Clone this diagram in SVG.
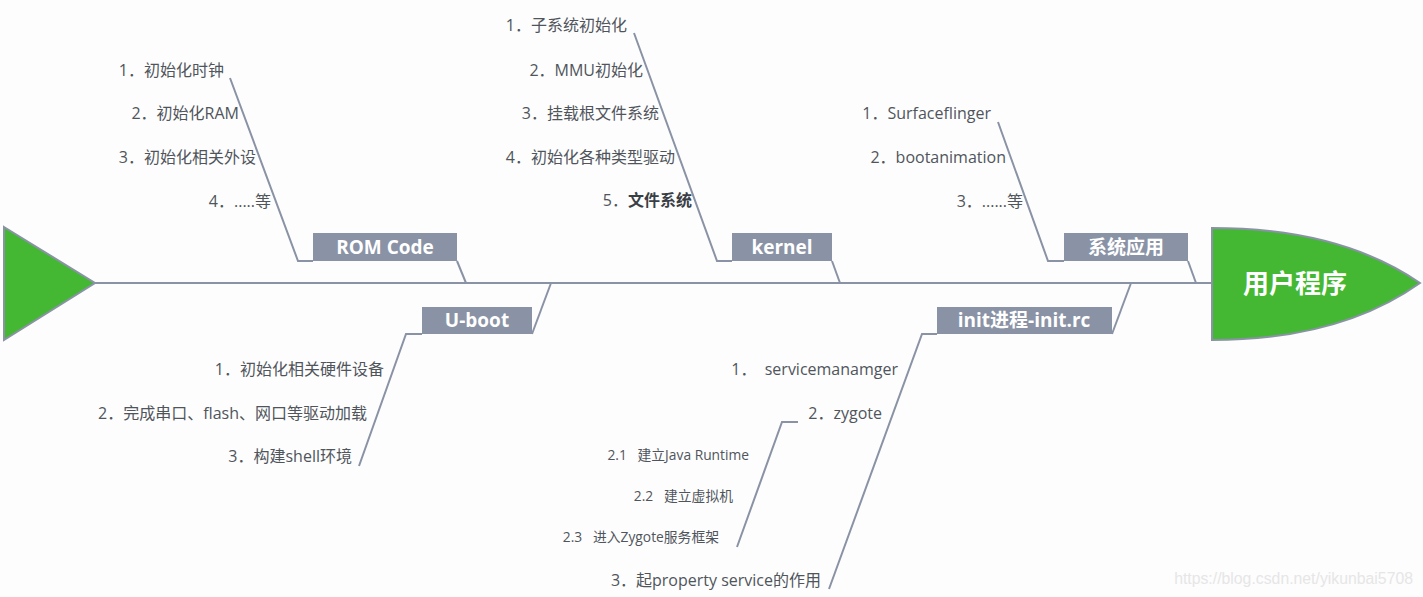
<svg xmlns="http://www.w3.org/2000/svg" width="1423" height="597" viewBox="0 0 1423 597">
<style>
.ln{stroke:#8a93a5;stroke-width:2;fill:none}
.box{fill:#8a93a5}
.bl{font-family:"Open Sans","Noto Sans CJK SC",sans-serif;font-size:19px;font-weight:bold;fill:#ffffff;text-anchor:middle}
.it{font-family:"Open Sans","Noto Sans CJK SC",sans-serif;font-size:16px;fill:#50555c;text-anchor:end}
.sm{font-family:"Open Sans","Noto Sans CJK SC",sans-serif;font-size:13.8px;fill:#50555c;text-anchor:end}
.head{fill:#44b833;stroke:#8a93a5;stroke-width:2}
</style>
<rect width="1423" height="597" fill="#fdfdfd"/>
<g id="connectors">
<line class="ln" x1="95" y1="283" x2="1212" y2="283"/>
<polyline class="ln" points="230,78 298,261 313,261"/>
<line class="ln" x1="457" y1="261" x2="466" y2="283"/>
<polyline class="ln" points="634,33 717,261 732,261"/>
<line class="ln" x1="832" y1="261" x2="840" y2="283"/>
<polyline class="ln" points="998,122 1048,261 1064,261"/>
<line class="ln" x1="1188" y1="261" x2="1196" y2="283"/>
<polyline class="ln" points="359,466 406,334 422,334"/>
<line class="ln" x1="532" y1="334" x2="551" y2="283"/>
<polyline class="ln" points="829,589 922,334 937,334"/>
<line class="ln" x1="1112" y1="334" x2="1131" y2="283"/>
<polyline class="ln" points="737,547 782,422 798,422"/>
</g>
<g id="tail">
<polygon class="head" points="4,227 95,283 4,340"/>
</g>
<g id="head">
<path class="head" d="M1212,228 Q1340,228 1420,283 Q1340,340 1212,340 Z"/>
<text x="1295" y="293" font-family="'Noto Sans CJK SC',sans-serif" font-size="26" font-weight="bold" fill="#ffffff" text-anchor="middle">用户程序</text>
</g>
<g id="romcode">
<rect class="box" x="313" y="233" width="144" height="28"/>
<text class="bl" x="385" y="254">ROM Code</text>
<text class="it" x="224" y="76">1．初始化时钟</text>
<text class="it" x="239" y="119">2．初始化RAM</text>
<text class="it" x="256" y="163">3．初始化相关外设</text>
<text class="it" x="271" y="207">4．.....等</text>
</g>
<g id="kernel">
<rect class="box" x="732" y="233" width="100" height="28"/>
<text class="bl" x="782" y="254">kernel</text>
<text class="it" x="627" y="31">1．子系统初始化</text>
<text class="it" x="643" y="76">2．MMU初始化</text>
<text class="it" x="659" y="119">3．挂载根文件系统</text>
<text class="it" x="675" y="163">4．初始化各种类型驱动</text>
<text class="it" x="692" y="206">5．<tspan font-weight="bold" fill="#3a3f45">文件系统</tspan></text>
</g>
<g id="sysapp">
<rect class="box" x="1064" y="233" width="124" height="28"/>
<text class="bl" x="1126" y="254">系统应用</text>
<text class="it" x="991" y="119">1．Surfaceflinger</text>
<text class="it" x="1006" y="163">2．bootanimation</text>
<text class="it" x="1023" y="207">3．......等</text>
</g>
<g id="uboot">
<rect class="box" x="422" y="307" width="110" height="27"/>
<text class="bl" x="477" y="327">U-boot</text>
<text class="it" x="384" y="375">1．初始化相关硬件设备</text>
<text class="it" x="367" y="419">2．完成串口、flash、网口等驱动加载</text>
<text class="it" x="352" y="462">3．构建shell环境</text>
</g>
<g id="init">
<rect class="box" x="937" y="307" width="175" height="27"/>
<text class="bl" x="1024" y="327">init进程-init.rc</text>
<text class="it" x="898" y="375" xml:space="preserve">1．  servicemanamger</text>
<text class="it" x="882" y="419">2．zygote</text>
<text class="sm" x="749" y="460" xml:space="preserve">2.1   建立Java Runtime</text>
<text class="sm" x="733" y="501" xml:space="preserve">2.2   建立虚拟机</text>
<text class="sm" x="719" y="542" xml:space="preserve">2.3   进入Zygote服务框架</text>
<text class="it" x="821" y="586">3．起property service的作用</text>
</g>
<text x="1413" y="584" font-family="'Liberation Sans',sans-serif" font-size="15.8" fill="#e6e6e6" text-anchor="end">https://blog.csdn.net/yikunbai5708</text>
</svg>
